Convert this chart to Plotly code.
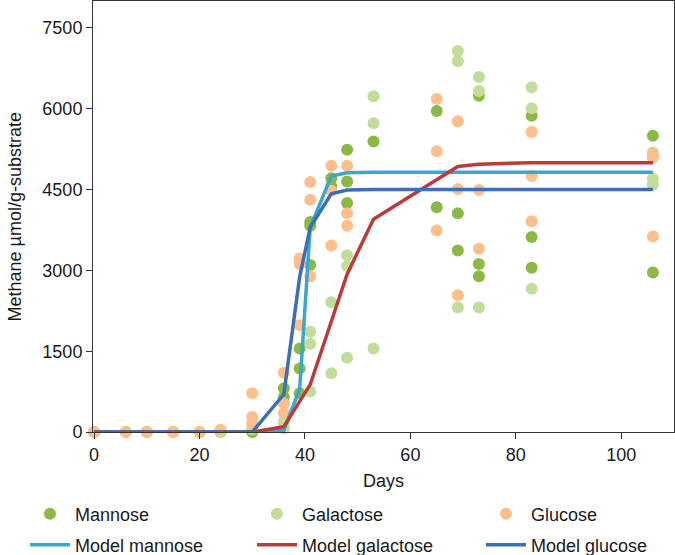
import plotly.graph_objects as go

# ---- data ----
mannose_days = [0, 6, 10, 15, 20, 24, 30, 36, 36, 39, 39, 39, 41, 41, 41, 45, 45,
                48, 48, 48, 53, 65, 65, 69, 69, 73, 73, 73, 83, 83, 83, 106, 106]
mannose_vals = [0, 0, 0, 0, 0, 0, 0, 810, 650, 1550, 1180, 720, 3900, 3830, 3100, 4710, 4560,
                5240, 4650, 4250, 5390, 5960, 4170, 4060, 3370, 6240, 3120, 2890, 5870, 3620, 3050, 5500, 2960]

galactose_days = [0, 6, 10, 15, 20, 24, 30, 36, 36, 41, 41, 41, 45, 45,
                  48, 48, 48, 53, 53, 53, 69, 69, 69, 73, 73, 73, 83, 83, 83, 106, 106, 106]
galactose_vals = [0, 0, 0, 0, 0, 0, 50, 190, 70, 1860, 1640, 750, 2410, 1090,
                  3280, 3080, 1380, 6230, 5730, 1550, 7070, 6880, 2310, 6590, 6330, 2310,
                  6400, 6010, 2660, 5190, 4700, 4590]

glucose_days = [0, 6, 10, 15, 20, 24, 30, 30, 30, 36, 36, 36, 39, 39, 39, 41, 41, 41,
                45, 45, 45, 48, 48, 48, 65, 65, 65, 69, 69, 69, 73, 73, 83, 83, 83, 106, 106, 106]
glucose_vals = [0, 0, 0, 0, 0, 40, 720, 280, 160, 1100, 530, 350, 3220, 3120, 1980, 4640, 4310, 2890,
                4940, 4480, 3460, 4940, 4060, 3830, 6180, 5210, 3740, 5770, 4510, 2540, 4490, 3400,
                5570, 4750, 3910, 5150, 5100, 3630]

model_days = [0, 6, 10, 15, 20, 24, 30, 36, 39, 41, 45, 48, 53, 65, 69, 73, 83, 106]
model_mannose = [0, 0, 0, 0, 0, 0, 0, 30, 800, 3800, 4750, 4810, 4820, 4820, 4820, 4820, 4820, 4820]
model_galactose = [0, 0, 0, 0, 0, 0, 0, 100, 570, 880, 2050, 2930, 3950, 4690, 4930, 4970, 5000, 5000]
model_glucose = [0, 0, 0, 0, 0, 0, 0, 700, 2880, 3800, 4420, 4490, 4500, 4500, 4500, 4500, 4500, 4500]

x_ticks = [0, 20, 40, 60, 80, 100]
y_ticks = [0, 1500, 3000, 4500, 6000, 7500]

# ---- styles ----
C_MAN = "#8cb845"
C_GAL = "#c2dc9c"
C_GLU = "#fdbf8c"
C_MMAN = "#3aa7cb"
C_MGAL = "#bd3a3b"
C_MGLU = "#3b6fb8"
FONT = "Liberation Sans, Arial, sans-serif"
TXT = "#1a1a1a"
W, H = 675, 555
ML, MR, MT, MB = 93, 1, 1, 123
PW = W - ML - MR

fig = go.Figure()
mk = dict(size=12, line=dict(width=0))
fig.add_trace(go.Scatter(x=mannose_days, y=mannose_vals, mode="markers", name="Mannose",
                         marker=dict(color=C_MAN, **mk), cliponaxis=False, legend="legend"))
fig.add_trace(go.Scatter(x=galactose_days, y=galactose_vals, mode="markers", name="Galactose",
                         marker=dict(color=C_GAL, **mk), cliponaxis=False, legend="legend2"))
fig.add_trace(go.Scatter(x=glucose_days, y=glucose_vals, mode="markers", name="Glucose",
                         marker=dict(color=C_GLU, **mk), cliponaxis=False, legend="legend3"))
fig.add_trace(go.Scatter(x=model_days, y=model_mannose, mode="lines", name="Model mannose",
                         line=dict(color=C_MMAN, width=3.5), cliponaxis=False, legend="legend4"))
fig.add_trace(go.Scatter(x=model_days, y=model_galactose, mode="lines", name="Model galactose",
                         line=dict(color=C_MGAL, width=3.5), cliponaxis=False, legend="legend5"))
fig.add_trace(go.Scatter(x=model_days, y=model_glucose, mode="lines", name="Model glucose",
                         line=dict(color=C_MGLU, width=3.5), cliponaxis=False, legend="legend6"))

col_text_x = [75, 302, 531]
row_y = [514, 545]
def leg(col, row):
    return dict(x=(col_text_x[col] - 50) / W, xanchor="left", xref="container",
                y=1 - row_y[row] / H, yanchor="middle", yref="container",
                itemwidth=40, bgcolor="rgba(0,0,0,0)", borderwidth=0,
                font=dict(family=FONT, size=18, color=TXT))

axis_common = dict(showgrid=False, zeroline=False, showline=True, mirror=True,
                   linecolor="#333333", linewidth=1, ticks="outside", ticklen=6,
                   tickcolor="#333333", tickfont=dict(family=FONT, size=18, color=TXT))

fig.update_layout(
    width=W, height=H,
    margin=dict(l=ML, r=MR, t=MT, b=MB, autoexpand=False),
    paper_bgcolor="white", plot_bgcolor="white",
    showlegend=True,
    legend=leg(0, 0), legend2=leg(1, 0), legend3=leg(2, 0),
    legend4=leg(0, 1), legend5=leg(1, 1), legend6=leg(2, 1),
    xaxis=dict(range=[-0.2, 110], tickvals=x_ticks, automargin=False,
               title=dict(text="Days", font=dict(family=FONT, size=18, color=TXT), standoff=10),
               **axis_common),
    yaxis=dict(range=[0, 8000], tickvals=y_ticks, automargin=False, **axis_common),
    annotations=[dict(text="Methane µmol/g-substrate", textangle=-90, showarrow=False,
                      xref="paper", yref="paper", x=(14 - ML) / PW, y=0.5,
                      xanchor="center", yanchor="middle",
                      font=dict(family=FONT, size=18, color=TXT))],
)

fig.write_html("out.html", config={"displayModeBar": False},
               post_script="document.body.style.margin='0';document.body.style.overflow='hidden';")
